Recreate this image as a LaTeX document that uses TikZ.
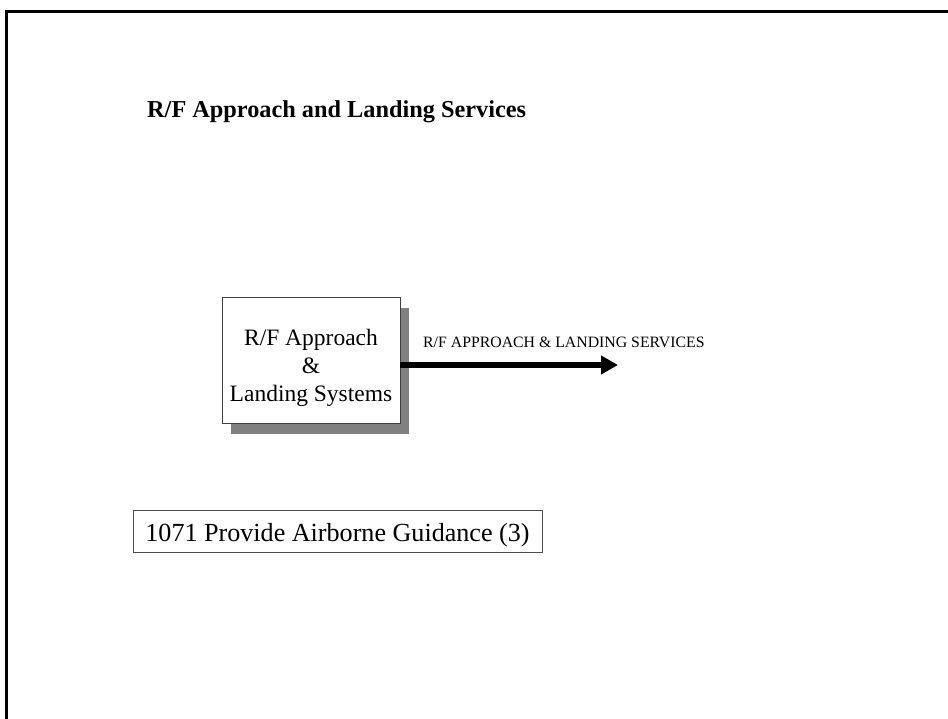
\documentclass[tikz,border=0pt]{standalone}
\usepackage{fontspec}
\setmainfont{Liberation Serif}
\usetikzlibrary{arrows.meta,shadows}
\begin{document}
\begin{tikzpicture}[x=1pt,y=-1pt,
  sysbox/.style={draw=black!75, line width=0.9pt, fill=white, align=center,
    minimum width=178pt, minimum height=126pt, inner sep=0pt,
    font=\fontsize{23.5}{28}\selectfont,
    drop shadow={shadow xshift=9pt, shadow yshift=-11pt, fill=black!50, opacity=1}},
  flowarrow/.style={line width=5.5pt, -{Triangle[length=17pt,width=18pt]}},
  flowlabel/.style={font=\fontsize{15.8}{18}\selectfont, inner sep=0pt},
  titlestyle/.style={font=\fontsize{24.3}{28}\selectfont\bfseries, inner sep=0pt},
  funcbox/.style={draw=black!70, line width=0.9pt, minimum width=409pt, minimum height=42pt,
    inner ysep=0pt, text height=21.5pt, text depth=0pt,
    font=\fontsize{26.1}{30}\selectfont}]
\useasboundingbox (0,0) rectangle (948,719);
\fill[white] (0,0) rectangle (948,719);
% frame (top and left edges visible)
\draw[line width=3pt] (6,725) -- (6,11.5) -- (955,11.5);
\node[titlestyle, anchor=base west] (title) at (147,118) {R/F Approach and Landing Services};
\node[sysbox] (sys) at (311,360) {\rule{0pt}{31.6pt}R/F Approach\\\&\\Landing Systems};
\coordinate (end) at (618,365);
\draw[flowarrow] ([yshift=-5pt]sys.east) -- (end);
\node[flowlabel, anchor=base west] (lbl) at (423,348) {R/F APPROACH \& LANDING SERVICES};
\node[funcbox] (func) at (337.5,531) {1071 Provide Airborne Guidance (3)};
\end{tikzpicture}
\end{document}
